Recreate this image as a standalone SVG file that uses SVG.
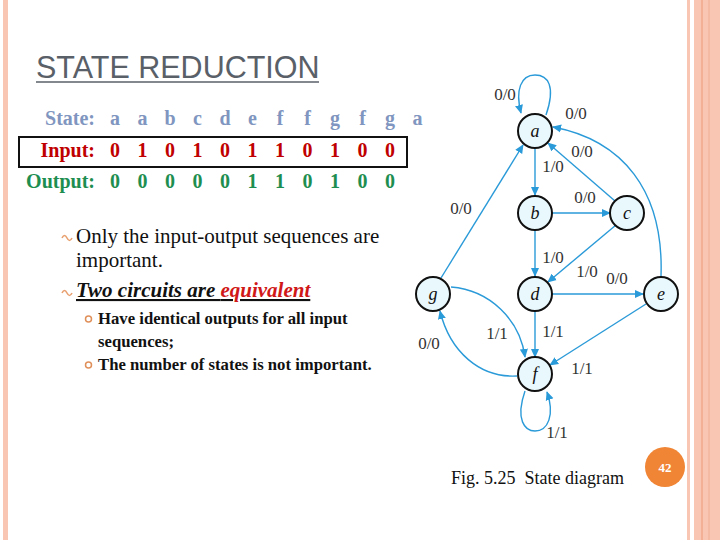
<svg xmlns="http://www.w3.org/2000/svg" width="720" height="540" viewBox="0 0 720 540">
<defs>
<marker id="arr" viewBox="0 0 10 10" refX="9" refY="5" markerWidth="9" markerHeight="9" markerUnits="userSpaceOnUse" orient="auto">
<path d="M0,0.5 L10,5 L0,9.5 z" fill="#2A9AD8"/>
</marker>
<style>
.frame{fill:#F8C6B3}
.title{font-family:"Liberation Sans",Arial,sans-serif;font-size:30.5px;fill:#5A6068}
.row{font-family:"Liberation Serif","Times New Roman",serif;font-size:20px;font-weight:bold}
.st{fill:#8096C0}
.in{fill:#C00000}
.out{fill:#1E8E50}
.body{font-family:"Liberation Serif","Times New Roman",serif;fill:#111}
.node circle{fill:#E9F8FC;stroke:#111;stroke-width:2}
.node text{font-family:"Liberation Serif","Times New Roman",serif;font-style:italic;font-size:18px;fill:#111;text-anchor:middle}
.edges path{fill:none;stroke:#2A9AD8;stroke-width:1.4;marker-end:url(#arr)}
.lbl{font-family:"Liberation Serif","Times New Roman",serif;font-size:17px;fill:#333;text-anchor:middle}
.bul{fill:none;stroke:#E8A070;stroke-width:1.6}
</style>
</defs>
<rect width="720" height="540" fill="#fff"/>
<!-- frame -->
<rect class="frame" x="3" y="0" width="5" height="540"/>
<rect class="frame" x="687" y="0" width="3" height="540"/>
<rect class="frame" x="694" y="0" width="26" height="540"/>
<line x1="702" y1="0" x2="702" y2="540" stroke="#EE9A78" stroke-width="1"/>
<line x1="709" y1="0" x2="709" y2="540" stroke="#F2AE92" stroke-width="1"/>

<!-- title -->
<text class="title" x="36" y="78">STATE REDUCTION</text>
<line x1="36" y1="82" x2="319" y2="82" stroke="#5A6068" stroke-width="1.5"/>

<!-- sequence table -->
<rect x="19" y="137" width="388" height="30" fill="none" stroke="#111" stroke-width="2"/>
<g class="row">
<text class="st" x="95" y="125" text-anchor="end">State:</text>
<text class="in" x="95" y="157" text-anchor="end">Input:</text>
<text class="out" x="95" y="188" text-anchor="end">Output:</text>
</g>
<g class="row st" text-anchor="middle">
<text x="115" y="125">a</text><text x="142.5" y="125">a</text><text x="170" y="125">b</text><text x="197.5" y="125">c</text><text x="225" y="125">d</text><text x="252.5" y="125">e</text><text x="280" y="125">f</text><text x="307.5" y="125">f</text><text x="335" y="125">g</text><text x="362.5" y="125">f</text><text x="390" y="125">g</text><text x="417.5" y="125">a</text>
</g>
<g class="row in" text-anchor="middle">
<text x="115" y="157">0</text><text x="142.5" y="157">1</text><text x="170" y="157">0</text><text x="197.5" y="157">1</text><text x="225" y="157">0</text><text x="252.5" y="157">1</text><text x="280" y="157">1</text><text x="307.5" y="157">0</text><text x="335" y="157">1</text><text x="362.5" y="157">0</text><text x="390" y="157">0</text>
</g>
<g class="row out" text-anchor="middle">
<text x="115" y="188">0</text><text x="142.5" y="188">0</text><text x="170" y="188">0</text><text x="197.5" y="188">0</text><text x="225" y="188">0</text><text x="252.5" y="188">1</text><text x="280" y="188">1</text><text x="307.5" y="188">0</text><text x="335" y="188">1</text><text x="362.5" y="188">0</text><text x="390" y="188">0</text>
</g>

<!-- bullets -->
<path class="bul" d="M62,238 q2.5,-5 5,0 q2.5,5 5,0"/>
<path class="bul" d="M62,293 q2.5,-5 5,0 q2.5,5 5,0"/>
<text class="body" x="76" y="243" font-size="21">Only the input-output sequences are</text>
<text class="body" x="76" y="267" font-size="21">important.</text>
<text class="body" x="76" y="297" font-size="21" font-weight="bold" font-style="italic" text-decoration="underline">Two circuits are <tspan fill="#D01818">equivalent</tspan></text>
<circle cx="88.5" cy="319" r="3" fill="none" stroke="#E0905A" stroke-width="1.5"/>
<circle cx="88.5" cy="365" r="3" fill="none" stroke="#E0905A" stroke-width="1.5"/>
<text class="body" x="98" y="324" font-size="16.7" font-weight="bold">Have identical outputs for all input</text>
<text class="body" x="98" y="347" font-size="16.7" font-weight="bold">sequences;</text>
<text class="body" x="98" y="370" font-size="16.7" font-weight="bold">The number of states is not important.</text>

<!-- connectors -->
<g class="edges">
<path d="M546,115 C556,86 548,75 535,75 C521,75 515,90 521,113"/>
<path d="M535,149 L535,195"/>
<path d="M552,213 L610,213"/>
<path d="M615,201 L548,143"/>
<path d="M661,276 C664,190 622,140 553,127"/>
<path d="M441,278 L523,145"/>
<path d="M535,230 L535,276"/>
<path d="M616,225 L548,282"/>
<path d="M552,294 L643,294"/>
<path d="M535,311 L535,357"/>
<path d="M646,304 L550,365"/>
<path d="M451,287 C490,290 520,320 525,357"/>
<path d="M517,376 C480,378 450,352 440,311"/>
<path d="M525,391 C515,420 525,431 535,431 C548,431 555,415 547,392"/>
</g>
<g>
<text class="lbl" x="505" y="100">0/0</text>
<text class="lbl" x="576" y="119">0/0</text>
<text class="lbl" x="553" y="172">1/0</text>
<text class="lbl" x="582" y="157">0/0</text>
<text class="lbl" x="585" y="203">0/0</text>
<text class="lbl" x="461" y="214">0/0</text>
<text class="lbl" x="553" y="263">1/0</text>
<text class="lbl" x="587" y="277">1/0</text>
<text class="lbl" x="617" y="284">0/0</text>
<text class="lbl" x="553" y="337">1/1</text>
<text class="lbl" x="497" y="339">1/1</text>
<text class="lbl" x="429" y="349">0/0</text>
<text class="lbl" x="582" y="374">1/1</text>
<text class="lbl" x="557" y="438">1/1</text>
</g>

<!-- nodes -->
<g id="a" class="node"><circle cx="535" cy="131" r="17"/><text x="535" y="137">a</text></g>
<g id="b" class="node"><circle cx="535" cy="213" r="17"/><text x="535" y="219">b</text></g>
<g id="c" class="node"><circle cx="627" cy="213" r="17"/><text x="627" y="219">c</text></g>
<g id="d" class="node"><circle cx="535" cy="294" r="17"/><text x="535" y="300">d</text></g>
<g id="e" class="node"><circle cx="661" cy="294" r="17"/><text x="661" y="300">e</text></g>
<g id="g" class="node"><circle cx="433" cy="294" r="17"/><text x="433" y="300">g</text></g>
<g id="f" class="node"><circle cx="535" cy="374" r="17"/><text x="535" y="380">f</text></g>

<!-- caption -->
<text class="body" x="451" y="484" font-size="18" xml:space="preserve">Fig. 5.25  State diagram</text>
<circle cx="665" cy="467" r="20" fill="#F08535"/>
<text x="665" y="472" font-family="Liberation Serif,serif" font-size="13" font-weight="bold" fill="#fff" text-anchor="middle">42</text>
</svg>
